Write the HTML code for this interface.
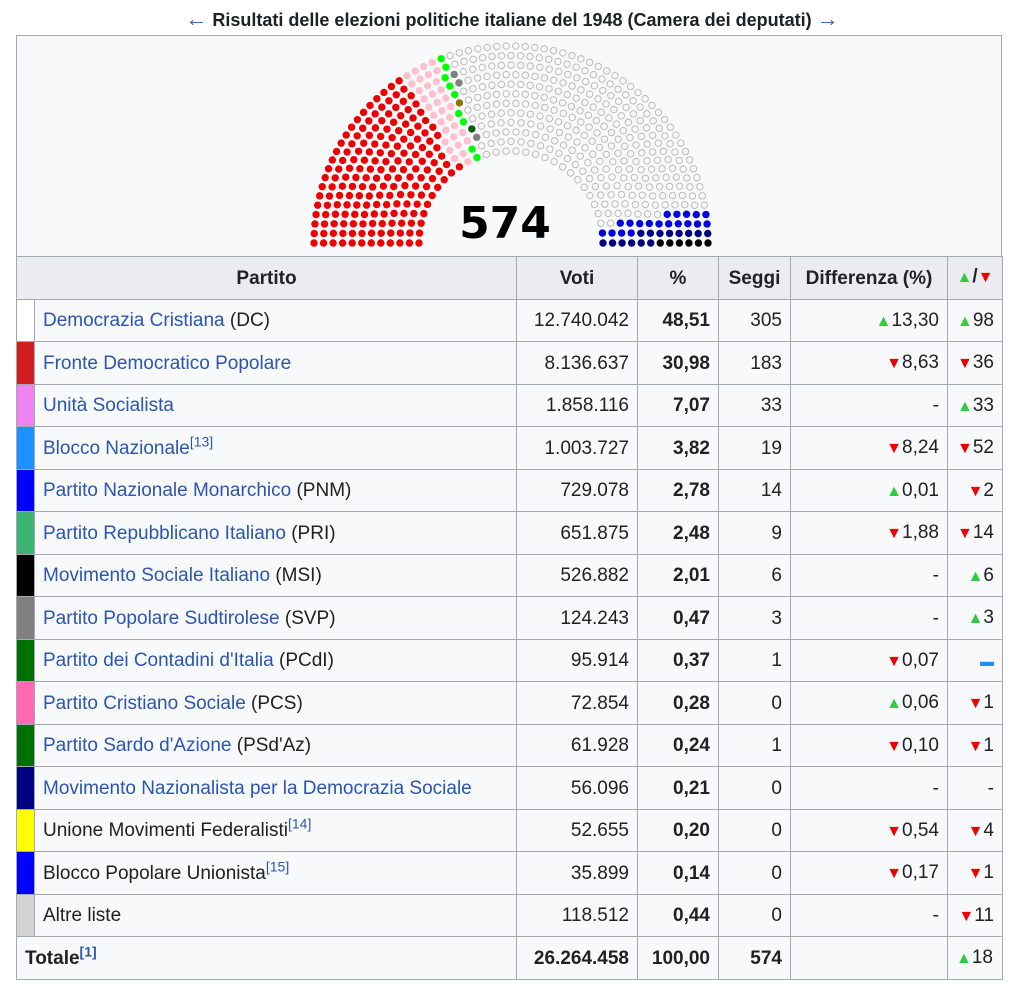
<!DOCTYPE html>
<html><head><meta charset="utf-8">
<style>
body{margin:0;background:#fff;font-family:"Liberation Sans",sans-serif;color:#202122;width:1024px;height:1002px;overflow:hidden;position:relative}
#title{position:absolute;top:6px;left:0;width:1024px;text-align:center;font-weight:bold;font-size:18px}
#title a{color:#2a55b0;text-decoration:none;font-size:22px}
#chart{position:absolute;left:16px;top:35px;width:984px;height:220px;background:#f8f9fa;border:1px solid #a2a9b1;border-bottom:none}
table{position:absolute;left:16px;top:256px;border-collapse:collapse;font-size:19px;background:#f8f9fa;table-layout:fixed;width:986px}
td,th{border:1px solid #a2a9b1;height:42.5px;padding:2px 8px 0;box-sizing:border-box;line-height:20px;white-space:nowrap}
th{background:#eaecf0;font-weight:bold}
td.n{text-align:right}
td.b{font-weight:bold;text-align:right}
td.c{padding:0;width:18px}
a{color:#2a55b0;text-decoration:none}
sup{font-size:14px;line-height:0}
.up{color:#2ecc40;font-size:16px}.dn{color:#e00;font-size:16px}
</style></head><body>
<div id="title"><a>←</a> Risultati delle elezioni politiche italiane del 1948 (Camera dei deputati) <a>→</a></div>
<div id="chart">
<svg id="svg" width="984" height="220"></svg>
</div>
<table>
<colgroup><col style="width:18px"><col style="width:482px"><col style="width:121px"><col style="width:81px"><col style="width:72px"><col style="width:157px"><col style="width:55px"></colgroup>
<tr><th colspan="2">Partito</th><th>Voti</th><th>%</th><th>Seggi</th><th>Differenza (%)</th><th style="padding:0"><span class="up">▲</span>/<span class="dn">▼</span></th></tr>
<tbody id="tb"></tbody>
<tr><td colspan="2" style="font-weight:bold">Totale<sup><a>[1]</a></sup></td><td class="b">26.264.458</td><td class="b">100,00</td><td class="b">574</td><td></td><td><span class="up">▲</span>18</td></tr>
</table>
<script>
const partyNames=["Democrazia Cristiana","Fronte Democratico Popolare","Unità Socialista","Blocco Nazionale","Partito Nazionale Monarchico","Partito Repubblicano Italiano","Movimento Sociale Italiano","Partito Popolare Sudtirolese","Partito dei Contadini d'Italia","Partito Cristiano Sociale","Partito Sardo d'Azione","Movimento Nazionalista per la Democrazia Sociale","Unione Movimenti Federalisti","Blocco Popolare Unionista","Altre liste"];
const abbr=["DC","","","","PNM","PRI","MSI","SVP","PCdI","PCS","PSd'Az","","","",""];
const sups=["","","","[13]","","","","","","","","","[14]","[15]",""];
const links=[1,1,1,1,1,1,1,1,1,1,1,1,0,0,0];
const colors=["#fff","#d11f1f","#ee82ee","#1e90ff","#0000ff","#3cb371","#000","#808080","#007000","#ff69b4","#007000","#000080","#ffff00","#0000ff","#d3d3d3"];
const votes=["12.740.042","8.136.637","1.858.116","1.003.727","729.078","651.875","526.882","124.243","95.914","72.854","61.928","56.096","52.655","35.899","118.512"];
const pct=["48,51","30,98","7,07","3,82","2,78","2,48","2,01","0,47","0,37","0,28","0,24","0,21","0,20","0,14","0,44"];
const seats=[305,183,33,19,14,9,6,3,1,0,1,0,0,0,0];
const diff=["u13,30","d8,63","-","d8,24","u0,01","d1,88","-","-","d0,07","u0,06","d0,10","-","d0,54","d0,17","-"];
const delta=["u98","d36","u33","d52","d2","d14","u6","u3","=","d1","d1","-","d4","d1","d11"];
function fmt(s){if(s[0]=="u")return '<span class="up">▲</span>'+s.slice(1);if(s[0]=="d")return '<span class="dn">▼</span>'+s.slice(1);if(s=="=")return '<span style="color:#1e90ff;font-weight:bold;font-size:14px">▬</span>';return s;}
const tb=document.getElementById('tb');
partyNames.forEach((p,i)=>{const tr=document.createElement('tr');


const nm=links[i]?'<a>'+p+'</a>':p;
tr.innerHTML='<td class="c" style="background:'+colors[i]+'"></td><td>'+nm+(abbr[i]?' ('+abbr[i]+')':'')+(sups[i]?'<sup><a>'+sups[i]+'</a></sup>':'')+'</td><td class="n">'+votes[i]+'</td><td class="b">'+pct[i]+'</td><td class="n">'+seats[i]+'</td><td class="n">'+fmt(diff[i])+'</td><td class="n">'+fmt(delta[i])+'</td>';
tb.appendChild(tr);});
const chartSeats=[183,33,9,1,1,3,305,19,14,6];
const chartColors=["#e00","#ffc0cb","#0f0","#8b7500","#006400","#808080","none","#0000e0","#000080","#000"];
const svg=document.getElementById('svg');const NS="http://www.w3.org/2000/svg";
const cx=494,cy=207,rIn=92,rOut=197,rows=12,total=574;
const radii=[];for(let i=0;i<rows;i++)radii.push(rIn+(rOut-rIn)*i/(rows-1));
const sumR=radii.reduce((a,b)=>a+b,0);
let counts=radii.map(r=>Math.floor(total*r/sumR));let rem=total-counts.reduce((a,b)=>a+b,0);
for(let i=rows-1;rem>0;i--,rem--)counts[i]++;
const pts=[];radii.forEach((r,i)=>{const n=counts[i];for(let k=0;k<n;k++){const a=Math.PI-Math.PI*k/(n-1);pts.push({a,x:cx+r*Math.cos(a),y:cy-r*Math.sin(a)});}});
pts.sort((p,q)=>q.a-p.a);
let idx=0;chartSeats.forEach((n,pi)=>{for(let k=0;k<n;k++){const p=pts[idx++];const c=document.createElementNS(NS,'circle');
c.setAttribute('cx',p.x);c.setAttribute('cy',p.y);c.setAttribute('r',chartColors[pi]=="none"?3.2:3.7);
if(chartColors[pi]=="none"){c.setAttribute('fill','none');c.setAttribute('stroke','#bbb');c.setAttribute('stroke-width','1');}else c.setAttribute('fill',chartColors[pi]);


svg.appendChild(c);}});
const t=document.createElementNS(NS,'text');t.setAttribute('x',cx-6);t.setAttribute('y',202);t.setAttribute('text-anchor','middle');t.setAttribute('font-size','44');t.setAttribute('font-weight','bold');t.setAttribute('font-family','DejaVu Sans, sans-serif');t.textContent='574';


svg.appendChild(t);
</script>
</body></html>
